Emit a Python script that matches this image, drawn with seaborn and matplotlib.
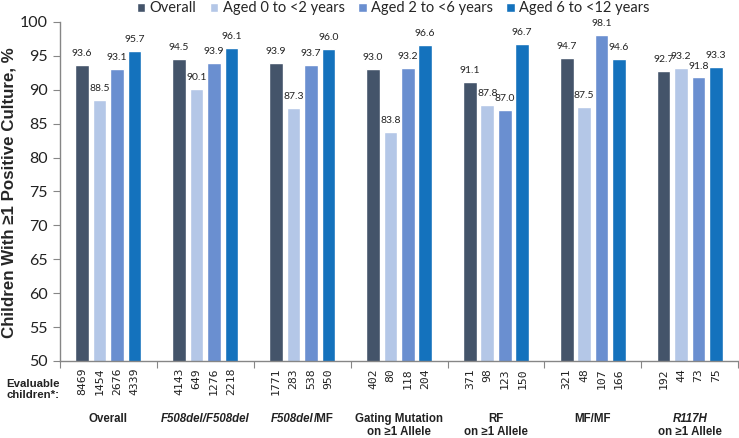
import pandas as pd
import seaborn as sns
import matplotlib.pyplot as plt
from matplotlib.transforms import blended_transform_factory
from matplotlib.offsetbox import TextArea, HPacker, AnnotationBbox

# categories and series
groups = ["Overall", "F508del/F508del", "F508del/MF", "Gating Mutation",
          "RF", "MF/MF", "R117H"]
series = ["Overall", "Aged 0 to <2 years", "Aged 2 to <6 years", "Aged 6 to <12 years"]
colors = ["#44546A", "#B4C7E7", "#6A8FD0", "#1472BD"]

# % of children with >=1 positive culture
overall = [93.6, 94.5, 93.9, 93.0, 91.1, 94.7, 92.7]
aged_0_2 = [88.5, 90.1, 87.3, 83.8, 87.8, 87.5, 93.2]
aged_2_6 = [93.1, 93.9, 93.7, 93.2, 87.0, 98.1, 91.8]
aged_6_12 = [95.7, 96.1, 96.0, 96.6, 96.7, 94.6, 93.3]

# evaluable children
n_overall = [8469, 4143, 1771, 402, 371, 321, 192]
n_0_2 = [1454, 649, 283, 80, 98, 48, 44]
n_2_6 = [2676, 1276, 538, 118, 123, 107, 73]
n_6_12 = [4339, 2218, 950, 204, 150, 166, 75]

values = [overall, aged_0_2, aged_2_6, aged_6_12]
counts = [n_overall, n_0_2, n_2_6, n_6_12]

rows = []
for s, vals in zip(series, values):
    for g, v in zip(groups, vals):
        rows.append({"group": g, "series": s, "value": v})
df = pd.DataFrame(rows)

sns.set_style("white")
plt.rcParams['font.family'] = ['Lato', 'DejaVu Sans']
label_font = ['Liberation Sans', 'DejaVu Sans']

fig = plt.figure(figsize=(7.39, 4.38), dpi=100)
ax = fig.add_axes([0.081, 0.176, 0.918, 0.774])

width = 0.72
sns.barplot(data=df, x="group", y="value", hue="series", order=groups,
            hue_order=series, palette=dict(zip(series, colors)),
            width=width, gap=0.22, saturation=1, ax=ax)

for cont in ax.containers:
    ax.bar_label(cont, fmt="%.1f", padding=5, fontsize=7.5, color="#222222")

ax.set_ylim(50, 100)
ax.set_yticks(range(50, 101, 5))
ax.set_xlim(-0.5, len(groups) - 0.5)
ax.set_xticks([i - 0.5 for i in range(len(groups) + 1)])
ax.set_xticklabels([])
ax.tick_params(axis='x', direction='out', length=5, color='#868686', bottom=True)
ax.tick_params(axis='y', direction='out', length=5, color='#868686', left=True,
               labelsize=11.5, labelcolor='#222222')
ax.set_xlabel("")
ax.set_ylabel("Children With ≥1 Positive Culture, %", fontsize=12.2,
              fontweight='bold', family=label_font)
ax.yaxis.set_label_coords(-0.064, 0.495)
for side in ['top', 'right']:
    ax.spines[side].set_visible(False)
for side in ['left', 'bottom']:
    ax.spines[side].set_color('#868686')
    ax.spines[side].set_linewidth(1)

# legend above the plot
handles, labels = ax.get_legend_handles_labels()
ax.get_legend().remove()
fig.legend(handles, labels, ncol=4, loc='center', bbox_to_anchor=(0.532, 0.981),
           frameon=False, handlelength=0.6, handleheight=0.6, handletextpad=0.3,
           columnspacing=0.9, fontsize=10.5)

# evaluable children counts under each bar
trans = blended_transform_factory(ax.transData, fig.transFigure)
slot = width / len(series)
for j, cnt in enumerate(counts):
    for i, n in enumerate(cnt):
        x = i + (j - (len(series) - 1) / 2) * slot
        ax.text(x, 0.160, str(n), transform=trans, rotation=90, ha='center',
                va='top', fontsize=8.2, family='DejaVu Sans Mono', color='#222222')

fig.text(0.045, 0.111, "Evaluable\nchildren*:", ha='center', va='center',
         fontsize=8.2, fontweight='bold', family=label_font, linespacing=1.1,
         color='#222222')

# group labels
line1_y, line2_y = 0.043, 0.014
bold = dict(fontsize=8.3, fontweight='bold', family=label_font, color='#222222')
ax.text(0, line1_y, "Overall", transform=trans, ha='center', va='center', **bold)
ax.text(1, line1_y, "F508del/F508del", transform=trans, ha='center', va='center',
        style='italic', **bold)
mixed = HPacker(children=[TextArea("F508del", textprops=dict(style='italic', **bold)),
                          TextArea("/MF", textprops=bold)],
                pad=0, sep=0, align='baseline')
ax.add_artist(AnnotationBbox(mixed, (2, line1_y), xycoords=trans, frameon=False,
                             box_alignment=(0.5, 0.5), pad=0))
ax.text(3, line1_y, "Gating Mutation", transform=trans, ha='center', va='center', **bold)
ax.text(3, line2_y, "on ≥1 Allele", transform=trans, ha='center', va='center', **bold)
ax.text(4, line1_y, "RF", transform=trans, ha='center', va='center', **bold)
ax.text(4, line2_y, "on ≥1 Allele", transform=trans, ha='center', va='center', **bold)
ax.text(5, line1_y, "MF/MF", transform=trans, ha='center', va='center', **bold)
ax.text(6, line1_y, "R117H", transform=trans, ha='center', va='center',
        style='italic', **bold)
ax.text(6, line2_y, "on ≥1 Allele", transform=trans, ha='center', va='center', **bold)

fig.savefig("out.png", dpi=100)
plt.close(fig)
